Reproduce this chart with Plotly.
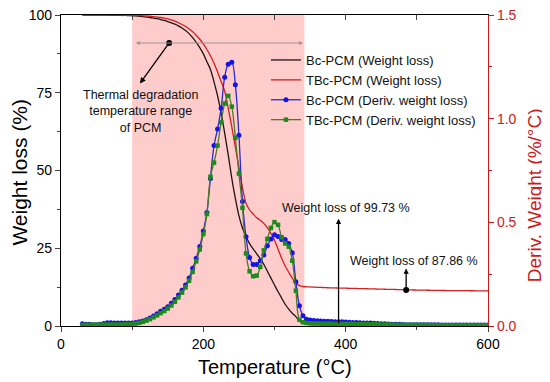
import plotly.graph_objects as go

# ---------------- data ----------------
T = list(range(30, 601, 5))

BC_W = [100, 100, 100, 100, 100, 100, 99.95, 99.95, 99.9, 99.9,
        99.9, 99.85, 99.85, 99.8, 99.75, 99.7, 99.6, 99.5, 99.35, 99.2,
        99.0, 98.8, 98.55, 98.25, 97.9, 97.5, 97.05, 96.5, 95.8, 95.0,
        94.0, 92.7, 91.2, 89.5, 87.5, 85.0, 82.5, 78.5, 74.0, 68.5,
        62.0, 55.0, 47.5, 41.0, 35.5, 31.5, 28.8, 26.5, 24.8, 23.2,
        21.6, 19.8, 17.6, 15.4, 13.2, 11.0, 9.0, 7.0, 5.4, 4.1,
        3.0, 1.6, 0.9, 0.6, 0.48, 0.45, 0.43, 0.42, 0.41, 0.40,
        0.39, 0.38, 0.37, 0.36, 0.35, 0.34, 0.34, 0.33, 0.33, 0.32,
        0.32, 0.31, 0.31, 0.30, 0.30, 0.30, 0.29, 0.29, 0.29, 0.29,
        0.28, 0.28, 0.28, 0.28, 0.28, 0.28, 0.28, 0.27, 0.27, 0.27,
        0.27, 0.27, 0.27, 0.27, 0.27, 0.27, 0.27, 0.27, 0.27, 0.27,
        0.27, 0.27, 0.27, 0.27, 0.27]

TBC_W = [100, 100, 100, 100, 100, 100, 100, 100, 100, 99.98,
         99.97, 99.95, 99.93, 99.92, 99.9, 99.85, 99.8, 99.75, 99.7, 99.6,
         99.5, 99.35, 99.2, 99.0, 98.75, 98.4, 98.0, 97.5, 96.95, 96.3,
         95.5, 94.6, 93.5, 92.2, 90.7, 88.9, 86.9, 84.5, 81.7, 78.6,
         75.5, 70.0, 64.0, 57.5, 51.0, 44.5, 39.5, 37.3, 36.0, 34.8,
         34.0, 33.0, 31.6, 29.8, 27.6, 24.7, 21.8, 19.3, 17.3, 15.4,
         13.8, 13.0, 12.7, 12.6, 12.55, 12.5, 12.45, 12.4, 12.35, 12.3,
         12.27, 12.24, 12.21, 12.18, 12.15, 12.12, 12.09, 12.06, 12.03, 12.0,
         11.97, 11.94, 11.91, 11.88, 11.85, 11.82, 11.79, 11.76, 11.73, 11.7,
         11.67, 11.64, 11.61, 11.58, 11.56, 11.54, 11.52, 11.5, 11.48, 11.46,
         11.44, 11.42, 11.41, 11.4, 11.39, 11.38, 11.37, 11.36, 11.35, 11.34,
         11.33, 11.32, 11.31, 11.3, 11.3]

BC_D = [0.011, 0.009, 0.008, 0.006, 0.006, 0.008, 0.012, 0.016, 0.016, 0.015,
        0.015, 0.015, 0.015, 0.015, 0.015, 0.017, 0.020, 0.024, 0.030, 0.039,
        0.048, 0.059, 0.071, 0.081, 0.093, 0.110, 0.128, 0.150, 0.173, 0.198,
        0.231, 0.279, 0.327, 0.384, 0.458, 0.548, 0.712, 0.870, 0.950, 1.050,
        1.200, 1.263, 1.272, 1.163, 0.920, 0.600, 0.430, 0.330, 0.297, 0.297,
        0.315, 0.342, 0.387, 0.420, 0.440, 0.432, 0.417, 0.417, 0.398, 0.353,
        0.214, 0.098, 0.050, 0.033, 0.029, 0.026, 0.025, 0.024, 0.023, 0.023,
        0.022, 0.021, 0.020, 0.020, 0.019, 0.018, 0.017, 0.017, 0.016, 0.015,
        0.014, 0.014, 0.013, 0.012, 0.011, 0.011, 0.010, 0.009, 0.008, 0.008,
        0.007, 0.006, 0.006, 0.006, 0.006, 0.006, 0.006, 0.006, 0.006, 0.006,
        0.006, 0.005, 0.005, 0.005, 0.005, 0.005, 0.005, 0.005, 0.005, 0.005,
        0.005, 0.005, 0.005, 0.005, 0.005]

TBC_D = [0.005, 0.006, 0.006, 0.006, 0.006, 0.006, 0.007, 0.007, 0.007, 0.007,
         0.007, 0.007, 0.008, 0.008, 0.009, 0.012, 0.015, 0.020, 0.026, 0.033,
         0.042, 0.051, 0.062, 0.072, 0.084, 0.099, 0.117, 0.138, 0.161, 0.186,
         0.218, 0.261, 0.312, 0.369, 0.443, 0.540, 0.720, 0.788, 0.870, 0.983,
         1.073, 1.110, 1.058, 0.908, 0.735, 0.570, 0.350, 0.264, 0.240, 0.243,
         0.285, 0.365, 0.420, 0.473, 0.501, 0.488, 0.428, 0.398, 0.383, 0.315,
         0.170, 0.030, 0.018, 0.014, 0.013, 0.012, 0.012, 0.011, 0.011, 0.011,
         0.011, 0.010, 0.010, 0.010, 0.010, 0.010, 0.010, 0.009, 0.009, 0.009,
         0.009, 0.008, 0.008, 0.008, 0.007, 0.007, 0.007, 0.006, 0.006, 0.006,
         0.005, 0.005, 0.005, 0.005, 0.005, 0.005, 0.005, 0.005, 0.004, 0.004,
         0.004, 0.004, 0.004, 0.004, 0.004, 0.004, 0.004, 0.004, 0.004, 0.004,
         0.004, 0.004, 0.004, 0.004, 0.004]

NAMES = ["Bc-PCM (Weight loss)", "TBc-PCM (Weight loss)",
         "Bc-PCM (Deriv. weight loss)", "TBc-PCM (Deriv. weight loss)"]

X_TICKS = [0, 200, 400, 600]
Y_TICKS = [0, 25, 50, 75, 100]
Y2_TICKS = [0.0, 0.5, 1.0, 1.5]

X_TITLE = "Temperature (°C)"
Y_TITLE = "Weight loss (%)"
Y2_TITLE = "Deriv. Weight (%/°C)"

RANGE_START, RANGE_END = 100, 342     # thermal degradation range (°C)
ARROW_Y = 91
DOT_X = [152, 390, 485]
DOT_Y = [91, 0.4, 11.6]

RED = "#cc1a1a"
FONT = "Liberation Sans, Arial, sans-serif"

fig = go.Figure()

fig.add_trace(go.Scatter(x=T, y=BC_W, name=NAMES[0], mode="lines",
                         line=dict(color="#1e1414", width=1.3, shape="spline")))
fig.add_trace(go.Scatter(x=T, y=TBC_W, name=NAMES[1], mode="lines",
                         line=dict(color="#d02020", width=1.3, shape="spline")))
fig.add_trace(go.Scatter(x=T, y=BC_D, name=NAMES[2], mode="lines+markers", yaxis="y2",
                         line=dict(color="#2a2ad0", width=1.3, shape="spline"),
                         marker=dict(color="#1414e6", size=5, symbol="circle")))
fig.add_trace(go.Scatter(x=T, y=TBC_D, name=NAMES[3], mode="lines+markers", yaxis="y2",
                         line=dict(color="#4f7a25", width=1.3, shape="spline"),
                         marker=dict(color="#1e8a1e", size=4.5, symbol="square")))
fig.add_trace(go.Scatter(x=DOT_X, y=DOT_Y, mode="markers", showlegend=False,
                         marker=dict(color="black", size=6), hoverinfo="skip"))

fig.add_shape(type="rect", xref="x", yref="y", x0=RANGE_START, x1=RANGE_END, y0=0, y1=100,
              fillcolor="#ffcccc", line=dict(width=0), layer="below")

anns = [
    dict(x=RANGE_END - 2, y=ARROW_Y, ax=RANGE_START + 3, ay=ARROW_Y, arrowside="end+start",
         arrowcolor="#a09595", arrowwidth=1, arrowhead=2, arrowsize=0.8, text=""),
    dict(x=111, y=78, ax=DOT_X[0], ay=DOT_Y[0], arrowcolor="black", arrowwidth=1.3,
         arrowhead=2, arrowsize=0.9, text=""),
    dict(x=DOT_X[1], y=34.5, ax=DOT_X[1], ay=DOT_Y[1], arrowcolor="black", arrowwidth=1.3,
         arrowhead=2, arrowsize=0.8, text=""),
    dict(x=DOT_X[2], y=18.5, ax=DOT_X[2], ay=DOT_Y[2], arrowcolor="black", arrowwidth=1.3,
         arrowhead=2, arrowsize=0.8, text=""),
]
for a in anns:
    a.update(xref="x", yref="y", axref="x", ayref="y", showarrow=True, standoff=0,
             startstandoff=0)
    fig.add_annotation(**a)

txt_font = dict(family=FONT, size=12.5, color="#111111")
fig.add_annotation(x=112, y=69, xref="x", yref="y", showarrow=False,
                   text="Thermal degradation<br>temperature range<br>of PCM", font=txt_font,
                   align="center")
fig.add_annotation(x=400, y=38, xref="x", yref="y", showarrow=False,
                   text="Weight loss of 99.73 %", font=txt_font)
fig.add_annotation(x=496, y=21, xref="x", yref="y", showarrow=False,
                   text="Weight loss of 87.86 %", font=txt_font)

# axis titles as annotations (precise placement)
fig.add_annotation(x=0.5, y=-0.132, xref="paper", yref="paper", showarrow=False,
                   text=X_TITLE, font=dict(family=FONT, size=20, color="black"),
                   xanchor="center", yanchor="middle")
fig.add_annotation(x=-0.0994, y=0.495, xref="paper", yref="paper", showarrow=False,
                   text=Y_TITLE, textangle=-90, font=dict(family=FONT, size=21, color="black"),
                   xanchor="center", yanchor="middle")
fig.add_annotation(x=1.108, y=0.421, xref="paper", yref="paper", showarrow=False,
                   text=Y2_TITLE, textangle=-90, font=dict(family=FONT, size=19, color=RED),
                   xanchor="center", yanchor="middle")

fig.update_layout(
    width=542, height=374,
    margin=dict(l=52.5, r=62, t=7, b=56),
    paper_bgcolor="white", plot_bgcolor="white",
    font=dict(family=FONT, size=14, color="black"),
    showlegend=True,
    legend=dict(x=0.48, y=0.9035, xanchor="left", yanchor="top", bgcolor="rgba(0,0,0,0)",
                font=dict(family=FONT, size=13, color="#111111"), tracegroupgap=0,
                itemwidth=30),
    xaxis=dict(range=[0, 600], tickvals=X_TICKS, ticks="outside", ticklen=5, tickwidth=1.2,
               showline=True, linecolor="black", linewidth=1.3, showgrid=False, zeroline=False,
               automargin=False, ticklabeloverflow="allow",
               minor=dict(dtick=100, ticks="outside", ticklen=3, tickwidth=1.2),
               tickfont=dict(size=14)),
    xaxis2=dict(range=[0, 600], overlaying="x", side="top", dtick=100, ticks="inside",
                ticklen=5, tickwidth=1.2, showticklabels=False, showline=True, automargin=False,
                linecolor="black", linewidth=1.3, showgrid=False, zeroline=False),
    yaxis=dict(range=[0, 100], tickvals=Y_TICKS, ticks="outside", ticklen=5, tickwidth=1.2,
               showline=True, linecolor="black", linewidth=1.3, showgrid=False, zeroline=False,
               automargin=False, ticklabeloverflow="allow",
               minor=dict(dtick=12.5, ticks="outside", ticklen=3, tickwidth=1.2),
               tickfont=dict(size=14)),
    yaxis2=dict(range=[0, 1.5], overlaying="y", side="right", tickvals=Y2_TICKS,
                tickformat=".1f", ticks="outside", ticklen=5, tickwidth=1.2,
                showline=True, linecolor=RED, linewidth=1.3, tickcolor=RED,
                showgrid=False, zeroline=False, automargin=False, ticklabeloverflow="allow",
                minor=dict(dtick=0.25, ticks="outside", ticklen=3, tickwidth=1.2,
                           tickcolor=RED),
                tickfont=dict(size=14, color=RED)),
)

# top mirrored axis (inside ticks)
fig.add_trace(go.Scatter(x=[0], y=[-10], xaxis="x2", mode="markers", showlegend=False,
                         hoverinfo="skip", marker=dict(opacity=0)))

fig.write_html("out.html")
